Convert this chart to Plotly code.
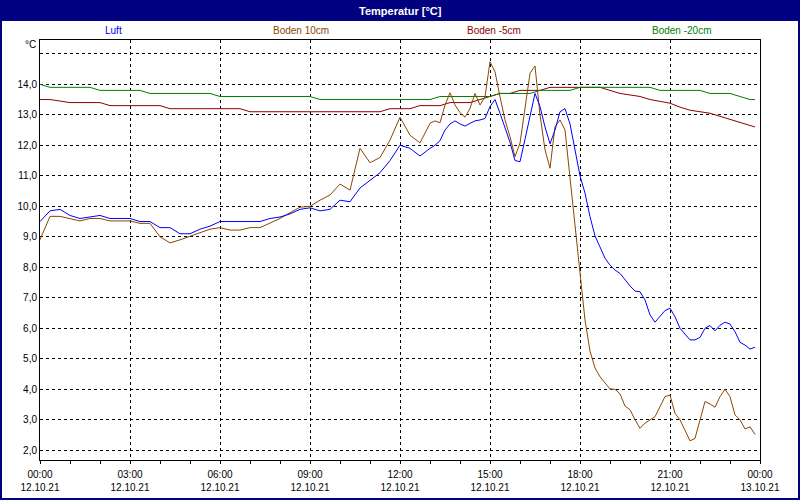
"""
Temperaturverlauf 12.10.21 - Luft und Bodentemperaturen
"""

import pandas as pd
import plotly.graph_objects as go

# Zeitachsen (Luft / Boden 10cm: 20 min bis 13:00, danach 10 min)
zeit_fein = pd.date_range("2021-10-12 00:00", "2021-10-12 13:00", freq="20min").append(
    pd.date_range("2021-10-12 13:10", "2021-10-12 23:50", freq="10min"))
zeit_boden = pd.date_range("2021-10-12 00:00", "2021-10-12 23:40", freq="20min").append(
    pd.DatetimeIndex(["2021-10-12 23:50"]))

luft = [
    9.5, 9.85, 9.9, 9.7, 9.6, 9.65, 9.7, 9.6, 9.6, 9.6,
    9.5, 9.5, 9.3, 9.3, 9.1, 9.1, 9.25, 9.35, 9.5, 9.5,
    9.5, 9.5, 9.5, 9.6, 9.65, 9.75, 9.9, 9.95, 9.85, 9.9,
    10.2, 10.15, 10.6, 10.85, 11.1, 11.5, 12.0, 11.9, 11.65, 11.9,
    # ab 13:10 alle 10 min
    12.0, 12.15, 12.5, 12.7, 12.8, 12.7, 12.63, 12.72, 12.8, 12.83,
    12.88, 13.27, 13.5, 13.05, 12.6, 12.1, 11.5, 11.46, 12.2, 12.95,
    13.7, 13.27, 12.6, 12.05, 12.5, 13.1, 13.2, 12.7, 11.8, 11.0,
    10.43, 9.66, 9.03, 8.68, 8.3, 8.07, 7.91, 7.8, 7.58, 7.39,
    7.22, 7.2, 6.93, 6.44, 6.2, 6.38, 6.58, 6.66, 6.38, 6.0,
    5.8, 5.62, 5.62, 5.7, 6.0, 6.09, 5.92, 6.1, 6.2, 6.14,
    5.89, 5.54, 5.45, 5.32, 5.38,
]

boden_10 = [
    8.9, 9.67, 9.67, 9.6, 9.52, 9.6, 9.6, 9.52, 9.52, 9.52,
    9.44, 9.44, 9.0, 8.8, 8.9, 9.01, 9.13, 9.25, 9.3, 9.22,
    9.22, 9.3, 9.3, 9.44, 9.6, 9.79, 9.97, 10.0, 10.2, 10.37,
    10.73, 10.53, 11.9, 11.43, 11.6, 12.17, 12.92, 12.33, 12.08, 12.72,
    # ab 13:10 alle 10 min
    12.8, 12.74, 13.32, 13.72, 13.32, 13.07, 12.92, 13.21, 13.7, 13.32,
    13.59, 14.74, 14.41, 13.59, 12.83, 12.28, 11.63, 12.07, 13.27, 14.36,
    14.6, 13.0, 11.85, 11.25, 12.61, 12.83, 12.5, 10.9, 9.3, 7.8,
    6.27, 5.25, 4.7, 4.41, 4.22, 4.01, 4.0, 3.85, 3.45, 3.33,
    3.0, 2.72, 2.89, 3.0, 3.1, 3.43, 3.76, 3.81, 3.21, 3.0,
    2.67, 2.31, 2.39, 3.0, 3.6, 3.52, 3.41, 3.76, 4.0, 3.76,
    3.16, 3.0, 2.7, 2.77, 2.52,
]

boden_minus5 = [
    13.5, 13.5, 13.45, 13.4, 13.4, 13.4, 13.4, 13.3, 13.3, 13.3,
    13.3, 13.3, 13.3, 13.2, 13.2, 13.2, 13.2, 13.2, 13.2, 13.2,
    13.2, 13.1, 13.1, 13.1, 13.1, 13.1, 13.1, 13.1, 13.1, 13.1,
    13.1, 13.1, 13.1, 13.1, 13.1, 13.2, 13.2, 13.2, 13.3, 13.3,
    13.3, 13.4, 13.4, 13.4, 13.5, 13.6, 13.7, 13.7, 13.8, 13.8,
    13.8, 13.9, 13.9, 13.9, 13.9, 13.9, 13.9, 13.8, 13.7, 13.65,
    13.6, 13.5, 13.45, 13.38, 13.25, 13.15, 13.1, 13.05, 12.95, 12.85,
    12.75, 12.65, 12.6,
]

boden_minus20 = [
    14.0, 13.9, 13.9, 13.9, 13.9, 13.9, 13.8, 13.8, 13.8, 13.8,
    13.8, 13.7, 13.7, 13.7, 13.7, 13.7, 13.7, 13.7, 13.6, 13.6,
    13.6, 13.6, 13.6, 13.6, 13.6, 13.6, 13.6, 13.6, 13.5, 13.5,
    13.5, 13.5, 13.5, 13.5, 13.5, 13.5, 13.5, 13.5, 13.5, 13.5,
    13.6, 13.6, 13.6, 13.6, 13.6, 13.6, 13.7, 13.7, 13.7, 13.7,
    13.8, 13.8, 13.8, 13.8, 13.9, 13.9, 13.9, 13.9, 13.9, 13.9,
    13.9, 13.9, 13.8, 13.8, 13.8, 13.8, 13.8, 13.7, 13.7, 13.7,
    13.6, 13.5, 13.5,
]

# Achsenbeschriftungen
x_ticks = pd.date_range("2021-10-12 00:00", "2021-10-13 00:00", freq="3h")
x_ticktext = ["00:00<br>12.10.21", "03:00<br>12.10.21", "06:00<br>12.10.21",
              "09:00<br>12.10.21", "12:00<br>12.10.21", "15:00<br>12.10.21",
              "18:00<br>12.10.21", "21:00<br>12.10.21", "00:00<br>13.10.21"]
x_minor = pd.date_range("2021-10-12 00:00", "2021-10-13 00:00", freq="1h")
y_ticks = [2, 3, 4, 5, 6, 7, 8, 9, 10, 11, 12, 13, 14, 15]
y_ticktext = ["2,0", "3,0", "4,0", "5,0", "6,0", "7,0", "8,0", "9,0",
              "10,0", "11,0", "12,0", "13,0", "14,0", ""]

serien = [
    ("Luft", zeit_fein, luft, "#0000ff", 0.1014),
    ("Boden 10cm", zeit_fein, boden_10, "#8c4600", 0.3625),
    ("Boden -5cm", zeit_boden, boden_minus5, "#8b0000", 0.6306),
    ("Boden -20cm", zeit_boden, boden_minus20, "#008000", 0.8903),
]

FONT = "Liberation Sans"
NAVY = "#000080"

# Plotbereich: 40..760 px horizontal, 40..460 px vertikal
W, H, L, T, R, B = 800, 500, 40, 40, 40, 40
PW, PH = W - L - R, H - T - B


def px_x(px):
    return (px - L) / PW


def px_y(py):
    return (H - B - py) / PH


fig = go.Figure()

# Reihenfolge wie im Original: Boden-Linien hinten, Luft vorne
for name, x, y, farbe, _ in [serien[2], serien[3], serien[1], serien[0]]:
    fig.add_trace(go.Scatter(
        x=x, y=y, mode="lines", name=name,
        line=dict(color=farbe, width=1),
        showlegend=False,
        hovertemplate=f"{name}: %{{y:.1f}} °C<extra></extra>"
    ))

annotations = [
    dict(text="<b>Temperatur [°C]</b>", x=0.5, y=px_y(10.5), xref="paper", yref="paper",
         showarrow=False, font=dict(color="white", size=11, family=FONT), yanchor="middle"),
    dict(text="°C", x=px_x(38), y=px_y(45), xref="paper", yref="paper", showarrow=False,
         xanchor="right", yanchor="middle", font=dict(color="black", size=10, family=FONT)),
]
for name, _, _, farbe, xpos in serien:
    annotations.append(dict(
        text=name, x=xpos, y=px_y(30), xref="paper", yref="paper", showarrow=False,
        xanchor="center", yanchor="middle", font=dict(color=farbe, size=10, family=FONT)
    ))

shapes = [
    # Titelbalken
    dict(type="rect", xref="paper", yref="paper", x0=px_x(-2), x1=px_x(802),
         y0=px_y(21), y1=px_y(-2), fillcolor=NAVY, line=dict(width=0), layer="below"),
    # Rahmen um das Bild
    dict(type="rect", xref="paper", yref="paper", x0=px_x(1), x1=px_x(799),
         y0=px_y(499), y1=px_y(1), line=dict(color=NAVY, width=2), layer="above"),
]

grid = dict(showgrid=True, gridcolor="black", gridwidth=1, griddash="3px,3px",
            showline=True, linecolor="black", linewidth=1, mirror=True, zeroline=False,
            automargin=False)

fig.update_layout(
    width=W, height=H,
    margin=dict(l=L, r=R, t=T, b=B),
    paper_bgcolor="white", plot_bgcolor="white",
    font=dict(family=FONT, size=10, color="black"),
    showlegend=False,
    annotations=annotations,
    shapes=shapes,
    xaxis=dict(
        range=["2021-10-12 00:00", "2021-10-13 00:00"],
        tickmode="array", tickvals=x_ticks, ticktext=x_ticktext,
        ticks="outside", ticklen=3, tickcolor="black",
        minor=dict(tickmode="array", tickvals=x_minor, ticks="outside",
                   ticklen=3, tickcolor="black", showgrid=False),
        tickfont=dict(size=10, family=FONT),
        ticklabelstandoff=2,
        **grid
    ),
    yaxis=dict(
        range=[1.682, 15.452],
        tickmode="array", tickvals=y_ticks, ticktext=y_ticktext,
        ticks="", tickfont=dict(size=10, family=FONT),
        **grid
    ),
)

# Seitenrand des Browsers entfernen, damit das Bild bei 0/0 beginnt
fig.write_html("out.html", config={"displayModeBar": False},
               post_script="document.body.style.margin='0px';")
